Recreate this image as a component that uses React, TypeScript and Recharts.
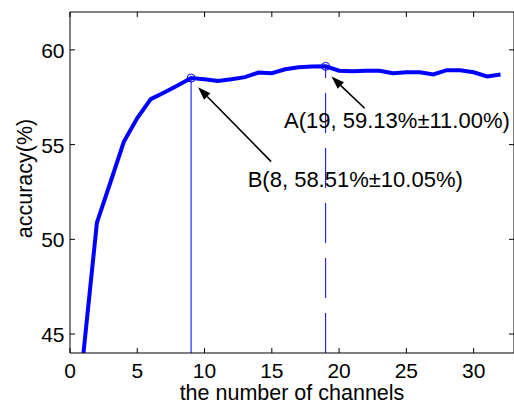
import React from 'react';
import { LineChart, Line, XAxis, YAxis, ReferenceLine, ReferenceDot } from 'recharts';

const channels = [1, 2, 3, 4, 5, 6, 7, 8, 9, 10, 11, 12, 13, 14, 15, 16, 17, 18, 19, 20, 21, 22, 23, 24, 25, 26, 27, 28, 29, 30, 31, 32];
const accuracy = [
  44.0, 50.88, 53.0, 55.15, 56.4, 57.4, 57.75, 58.12, 58.51, 58.45, 58.36, 58.45, 58.56, 58.8, 58.77, 58.98,
  59.08, 59.12, 59.13, 58.9, 58.87, 58.9, 58.9, 58.77, 58.82, 58.82, 58.7, 58.93, 58.92, 58.82, 58.6, 58.7,
];
const xTicks = [0, 5, 10, 15, 20, 25, 30];
const yTicks = [45, 50, 55, 60];

// highlighted points: index into the series, label text, where the text and arrow sit
const markIndex = [18, 8];
const markLabels = ['A(19, 59.13%\u00b111.00%)', 'B(8, 58.51%\u00b110.05%)'];
const markDash = ['40 15', undefined];
const labelPos = [{ x: 24.3, y: 55.88 }, { x: 21.2, y: 52.75 }];
const arrowTail = [{ x: 21.9, y: 56.92 }, { x: 14.95, y: 54.1 }];
const arrowTip = [{ x: 19.43, y: 58.59 }, { x: 9.52, y: 58.03 }];

const font = '"Liberation Sans", Arial, sans-serif';

const chartData = channels.map((c, i) => ({ channels: c, accuracy: accuracy[i] }));

const BottomTick = ({ x, y, payload }: any) => (
  <g>
    <line x1={x} y1={y} x2={x} y2={y - 5} stroke="#000" />
    <text x={x} y={y + 24.7} textAnchor="middle" fontSize={21} fontFamily={font} fill="#000">
      {payload.value}
    </text>
  </g>
);

const LeftTick = ({ x, y, payload }: any) => (
  <g>
    <line x1={x} y1={y} x2={x + 5} y2={y} stroke="#000" />
    <text x={x - 5.5} y={y + 8} textAnchor="end" fontSize={21} fontFamily={font} fill="#000">
      {payload.value}
    </text>
  </g>
);

const TopTick = ({ x, y }: any) => <line x1={x} y1={y} x2={x} y2={y + 5} stroke="#000" />;
const RightTick = ({ x, y }: any) => <line x1={x} y1={y} x2={x - 5} y2={y} stroke="#000" />;

const Arrow = (props: any) => {
  const { x1, y1, x2, y2 } = props;
  const a = Math.atan2(y2 - y1, x2 - x1);
  const len = 13;
  const half = 4.5;
  const bx = x2 - len * Math.cos(a);
  const by = y2 - len * Math.sin(a);
  const pts = `${x2},${y2} ${bx - half * Math.sin(a)},${by + half * Math.cos(a)} ${bx + half * Math.sin(a)},${by - half * Math.cos(a)}`;
  return (
    <g>
      <line x1={x1} y1={y1} x2={bx} y2={by} stroke="#000" strokeWidth={1.6} />
      <polygon points={pts} fill="#000" />
    </g>
  );
};

const App: React.FC = () => {
  return (
    <div style={{ position: 'absolute', left: 0, top: 0, width: 514, height: 405, overflow: 'hidden', background: '#fff' }}>
      <LineChart width={515} height={405} data={chartData} margin={{ top: 0, right: 0, left: 0, bottom: 0 }}>
        <XAxis
          dataKey="channels"
          type="number"
          domain={[0, 33]}
          ticks={xTicks}
          tickSize={0}
          tickMargin={0}
          tickLine={false}
          tick={<BottomTick />}
          height={52}
          stroke="#000"
          allowDataOverflow
          label={{
            content: (p: any) => (
              <text
                x={p.viewBox.x + p.viewBox.width / 2}
                y={400}
                textAnchor="middle"
                fontSize={21.5}
                fontFamily={font}
                fill="#000"
              >
                the number of channels
              </text>
            ),
          }}
        />
        <XAxis
          xAxisId="top"
          orientation="top"
          dataKey="channels"
          type="number"
          domain={[0, 33]}
          ticks={xTicks}
          tickSize={0}
          tickMargin={0}
          tickLine={false}
          tick={<TopTick />}
          height={12}
          stroke="#000"
          allowDataOverflow
        />
        <YAxis
          type="number"
          domain={[44, 62]}
          ticks={yTicks}
          tickSize={0}
          tickMargin={0}
          tickLine={false}
          tick={<LeftTick />}
          width={70}
          stroke="#000"
          allowDataOverflow
          label={{
            content: (p: any) => {
              const cx = 31.5;
              const cy = p.viewBox.y + p.viewBox.height / 2 - 4;
              return (
                <text
                  x={cx}
                  y={cy}
                  transform={`rotate(-90 ${cx} ${cy})`}
                  textAnchor="middle"
                  fontSize={21.5}
                  fontFamily={font}
                  fill="#000"
                >
                  accuracy(%)
                </text>
              );
            },
          }}
        />
        <YAxis
          yAxisId="right"
          orientation="right"
          type="number"
          domain={[44, 62]}
          ticks={yTicks}
          tickSize={0}
          tickMargin={0}
          tickLine={false}
          tick={<RightTick />}
          width={1}
          stroke="#000"
          allowDataOverflow
        />
        {markIndex.map((idx, i) => (
          <ReferenceLine
            key={`v${i}`}
            segment={[
              { x: channels[idx], y: 44 },
              { x: channels[idx], y: accuracy[idx] },
            ]}
            stroke="#0000ff"
            strokeWidth={1}
            strokeDasharray={markDash[i]}
          />
        ))}
        <Line
          type="linear"
          dataKey="accuracy"
          stroke="#0000ff"
          strokeWidth={4}
          dot={false}
          isAnimationActive={false}
        />
        {markIndex.map((idx, i) => (
          <ReferenceDot
            key={`d${i}`}
            x={channels[idx]}
            y={accuracy[idx]}
            r={4}
            fill="none"
            stroke="#0000ff"
            strokeWidth={1}
          />
        ))}
        {markIndex.map((_, i) => (
          <ReferenceLine
            key={`a${i}`}
            segment={[arrowTail[i], arrowTip[i]]}
            shape={<Arrow />}
          />
        ))}
        {markLabels.map((txt, i) => (
          <ReferenceDot
            key={`t${i}`}
            x={labelPos[i].x}
            y={labelPos[i].y}
            r={0}
            shape={(p: any) => (
              <text x={p.cx} y={p.cy} textAnchor="middle" fontSize={22} fontFamily={font} fill="#000">
                {txt}
              </text>
            )}
          />
        ))}
      </LineChart>
    </div>
  );
};

export default App;
